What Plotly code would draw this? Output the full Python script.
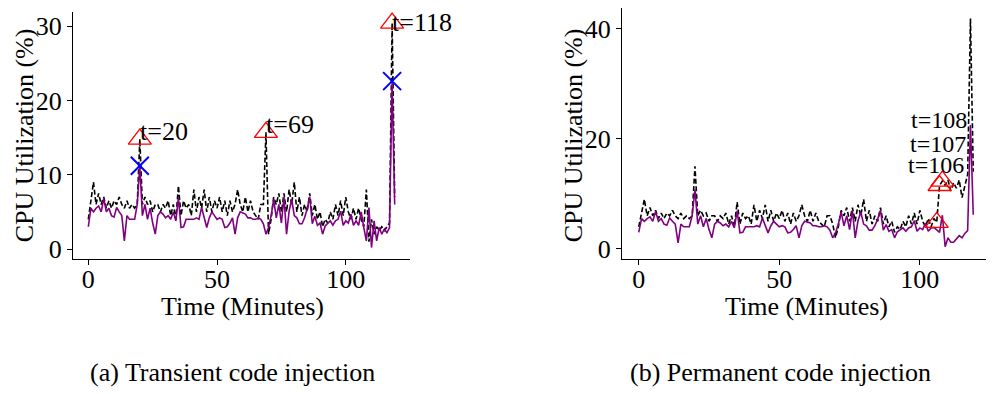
import plotly.graph_objects as go

minutes = list(range(120))

# (a) Transient code injection
a_purple = [3.0, 5.5, 5.0, 5.5, 5.8, 5.0, 6.8, 5.0, 5.5, 4.5,
            4.3, 5.6, 5.0, 4.5, 1.1, 4.5, 4.0, 4.0, 4.0, 6.0,
            11.2, 4.5, 6.0, 4.0, 5.5, 3.5, 2.0, 4.5, 5.0, 4.7,
            4.2, 4.5, 4.0, 5.0, 3.8, 6.9, 2.9, 3.0, 4.0, 4.0,
            4.0, 4.0, 4.2, 4.0, 5.6, 4.2, 2.9, 4.2, 5.0, 4.5,
            4.0, 4.2, 4.0, 2.9, 3.0, 3.5, 4.2, 2.0, 4.2, 5.0,
            4.9, 4.7, 4.2, 4.2, 4.0, 4.0, 4.2, 4.0, 3.4, 2.0,
            2.9, 4.5, 6.7, 4.2, 6.0, 3.5, 7.0, 2.0, 5.1, 6.7,
            4.5, 4.2, 3.4, 3.4, 4.2, 5.4, 7.0, 3.4, 4.4, 3.2,
            3.5, 2.0, 3.1, 3.5, 3.8, 3.2, 3.8, 4.0, 5.1, 3.2,
            3.8, 3.5, 4.7, 3.2, 3.8, 3.2, 5.0, 2.9, 1.1, 5.6,
            0.2, 3.8, 1.1, 2.9, 2.0, 2.7, 2.2, 2.9, 22.6, 6.0]
a_dashed = [4.0, 6.5, 9.0, 6.0, 7.5, 6.0, 7.0, 5.5, 6.5, 5.5,
            6.5, 6.0, 7.0, 6.0, 5.5, 6.5, 5.5, 6.0, 5.5, 6.0,
            14.8, 6.0, 7.0, 6.0, 6.5, 5.0, 6.0, 6.0, 5.0, 6.0,
            5.5, 6.5, 4.5, 6.0, 4.0, 8.5, 4.5, 6.5, 5.5, 6.0,
            4.5, 8.0, 5.0, 7.0, 5.5, 8.0, 5.0, 7.0, 5.0, 6.5,
            5.5, 7.0, 5.0, 6.5, 4.5, 6.5, 5.0, 6.0, 8.0, 6.0,
            5.0, 7.0, 5.0, 6.5, 5.0, 4.5, 4.0, 6.0, 6.0, 15.7,
            2.0, 4.0, 7.0, 6.0, 7.5, 5.0, 7.5, 5.0, 8.0, 6.0,
            9.0, 5.0, 7.0, 4.5, 6.0, 5.0, 7.5, 4.5, 6.0, 4.0,
            5.0, 3.0, 4.0, 3.5, 5.0, 4.0, 6.0, 4.5, 6.5, 4.5,
            7.0, 5.0, 4.0, 5.5, 4.0, 5.5, 4.0, 3.0, 8.0, 1.0,
            4.0, 2.0, 3.0, 2.5, 3.0, 2.5, 3.0, 3.5, 30.4, 7.0]
a_triangle_t = [20, 69, 118]
a_cross_t = [20, 118]

# (b) Permanent code injection
b_purple = [3.0, 5.5, 5.0, 5.5, 5.8, 5.0, 6.8, 5.0, 5.5, 4.5,
            4.3, 5.6, 5.0, 4.5, 1.1, 4.5, 4.0, 4.0, 4.0, 6.0,
            10.8, 4.5, 6.0, 4.0, 5.5, 3.5, 2.0, 4.5, 5.0, 4.7,
            4.2, 4.5, 4.0, 5.0, 3.8, 6.9, 2.9, 3.0, 4.0, 4.0,
            4.0, 4.0, 4.2, 4.0, 5.6, 4.2, 2.9, 4.2, 5.0, 4.5,
            4.0, 4.2, 4.0, 2.9, 3.0, 3.5, 4.2, 2.0, 4.2, 5.0,
            4.9, 4.7, 4.2, 4.2, 4.0, 4.0, 4.2, 4.0, 3.4, 2.0,
            2.9, 4.5, 6.7, 4.2, 6.0, 3.5, 7.0, 2.0, 5.1, 6.7,
            4.5, 4.2, 3.4, 3.4, 4.2, 5.4, 7.0, 3.4, 4.4, 3.2,
            3.5, 2.0, 3.1, 3.5, 3.8, 3.2, 3.8, 4.0, 5.1, 3.2,
            3.8, 3.5, 4.7, 3.2, 3.8, 3.9, 3.5, 3.0, 6.1, 0.4,
            2.0, 1.2, 1.2, 1.8, 2.4, 2.0, 2.8, 3.3, 22.5, 6.2]
b_dashed = [4.0, 6.5, 9.0, 6.0, 7.5, 6.0, 7.0, 5.5, 6.5, 5.5,
            6.5, 6.0, 7.0, 6.0, 5.5, 6.5, 5.5, 6.0, 5.5, 6.0,
            15.0, 6.0, 7.0, 6.0, 6.5, 5.0, 6.0, 6.0, 5.0, 6.0,
            5.5, 6.5, 4.5, 6.0, 4.0, 8.5, 4.5, 6.5, 5.5, 6.0,
            4.5, 8.0, 5.0, 7.0, 5.5, 8.0, 5.0, 7.0, 5.0, 6.5,
            5.5, 7.0, 5.0, 6.5, 4.5, 6.5, 5.0, 6.0, 8.0, 6.0,
            5.0, 7.0, 5.0, 6.5, 5.0, 4.5, 4.0, 6.0, 6.0, 4.5,
            2.0, 4.0, 7.0, 6.0, 7.5, 5.0, 7.5, 5.0, 8.0, 6.0,
            9.0, 5.0, 7.0, 4.5, 6.0, 5.0, 7.5, 4.5, 6.0, 4.0,
            5.0, 3.0, 4.0, 3.5, 5.0, 4.0, 6.0, 4.5, 6.5, 4.5,
            7.0, 5.0, 4.0, 5.5, 4.0, 5.5, 4.8, 11.5, 12.3, 11.5,
            12.5, 10.5, 12.0, 11.0, 12.5, 9.3, 11.5, 13.5, 41.8, 14.0]
b_triangle_t = [106, 107, 108]

y_ticks_a = [0, 10, 20, 30]
y_ticks_b = [0, 20, 40]
x_ticks = [0, 50, 100]

FONT = "Liberation Serif, Times New Roman, serif"
FS = 26
PURPLE = "#800080"
W, H = 994, 394
OFF = 8  # page body margin


def px_x(wx):
    return min(1.0, max(0.0, (wx - OFF) / W))


def px_y(wy):
    return min(1.0, max(0.0, 1 - (wy - OFF) / H))


fig = go.Figure()


def add_panel(xa, ya, purple, dashed, tri_t, cross_t):
    fig.add_trace(go.Scatter(x=minutes, y=dashed, mode="lines", xaxis=xa, yaxis=ya,
                             line=dict(color="black", width=1.6, dash="5px,2.5px"),
                             showlegend=False, hoverinfo="skip"))
    fig.add_trace(go.Scatter(x=minutes, y=purple, mode="lines", xaxis=xa, yaxis=ya,
                             line=dict(color=PURPLE, width=1.6),
                             showlegend=False, hoverinfo="skip"))
    fig.add_trace(go.Scatter(x=tri_t, y=[dashed[t] for t in tri_t], mode="markers",
                             xaxis=xa, yaxis=ya,
                             marker=dict(symbol="triangle-up-open", size=20, color="red",
                                         line=dict(width=1.3, color="red")),
                             showlegend=False, hoverinfo="skip"))
    if cross_t:
        fig.add_trace(go.Scatter(x=cross_t, y=[purple[t] for t in cross_t], mode="markers",
                                 xaxis=xa, yaxis=ya,
                                 marker=dict(symbol="x-thin-open", size=18, color="blue",
                                             line=dict(width=2, color="blue")),
                                 showlegend=False, hoverinfo="skip"))


add_panel("x", "y", a_purple, a_dashed, a_triangle_t, a_cross_t)
add_panel("x2", "y2", b_purple, b_dashed, b_triangle_t, [])

axis_common = dict(showline=True, linecolor="black", linewidth=1.2, ticks="outside",
                   ticklen=5, tickwidth=1.2, tickcolor="black", showgrid=False,
                   zeroline=False, tickfont=dict(family=FONT, size=FS, color="black"))

fig.update_layout(
    width=W, height=H,
    margin=dict(l=0, r=0, t=0, b=0),
    paper_bgcolor="white", plot_bgcolor="white",
    font=dict(family=FONT, size=FS, color="black"),
    xaxis=dict(domain=[px_x(73), px_x(410)], range=[-5.95, 124.95], tickvals=x_ticks,
               anchor="y", ticklabelstandoff=-8, **axis_common),
    yaxis=dict(domain=[px_y(262), px_y(12)], range=[-1.31, 31.91], tickvals=y_ticks_a,
               anchor="x", **axis_common),
    xaxis2=dict(domain=[px_x(622), px_x(990)], range=[-5.95, 124.95], tickvals=x_ticks,
                anchor="y2", ticklabelstandoff=-8, **axis_common),
    yaxis2=dict(domain=[px_y(262), px_y(8)], range=[-1.8, 43.72], tickvals=y_ticks_b,
                anchor="x2", **axis_common),
)

ann = []
a_yshift = {20: 8, 69: 8, 118: 1}
for t in a_triangle_t:
    ann.append(dict(x=t, y=a_dashed[t], xref="x", yref="y", text=f"t={t}",
                    xanchor="left", yanchor="middle", yshift=a_yshift[t], xshift=-2,
                    showarrow=False, font=dict(family=FONT, size=FS, color="black")))
b_shifts = {106: (29, 57), 107: (28, 42), 108: (27, 61)}
for t in b_triangle_t:
    xs, ys = b_shifts[t]
    ann.append(dict(x=t, y=b_dashed[t], xref="x2", yref="y2", text=f"t={t}",
                    xanchor="right", yanchor="middle", xshift=xs, yshift=ys,
                    showarrow=False, font=dict(family=FONT, size=24, color="black")))


def paper_text(x, y, text, angle=0):
    return dict(x=px_x(x), y=px_y(y), xref="paper", yref="paper", text=text,
                xanchor="center", yanchor="middle", textangle=angle, showarrow=False,
                font=dict(family=FONT, size=FS, color="black"))


ann += [
    paper_text(242, 310, "Time (Minutes)"),
    paper_text(806, 310, "Time (Minutes)"),
    paper_text(24, 137, "CPU Utilization (%)", -90),
    paper_text(573, 137, "CPU Utilization (%)", -90),
    paper_text(232, 377, "(a) Transient code injection"),
    paper_text(780, 377, "(b) Permanent code injection"),
]
fig.update_layout(annotations=ann)

fig.write_html("out.html")
